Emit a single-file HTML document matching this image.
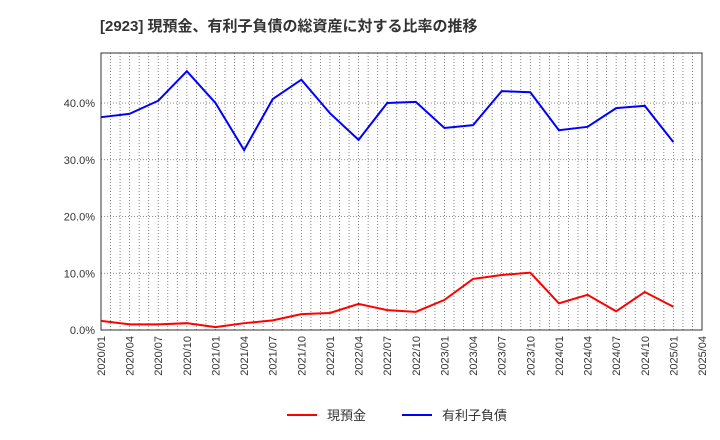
<!DOCTYPE html>
<html><head><meta charset="utf-8"><style>
body{margin:0;background:#fff;font-family:"Liberation Sans","Noto Sans CJK JP",sans-serif;}
</style></head><body>
<svg id="chart" width="720" height="440" style="display:block">
<text x="100" y="31" font-size="15" font-weight="bold" fill="#333">[2923]  現預金、有利子負債の総資産に対する比率の推移</text>
<g id="grid"></g><g id="axes"></g><g id="series"></g>
<g>
<line x1="287" y1="415" x2="317" y2="415" stroke="#f00" stroke-width="2"/>
<text x="327" y="420" font-size="13" fill="#333">現預金</text>
<line x1="402" y1="415" x2="432" y2="415" stroke="#00f" stroke-width="2"/>
<text x="442" y="420" font-size="13" fill="#333">有利子負債</text>
</g>
</svg>
<script>
const xLabels=["2020/01","2020/04","2020/07","2020/10","2021/01","2021/04","2021/07","2021/10","2022/01","2022/04","2022/07","2022/10","2023/01","2023/04","2023/07","2023/10","2024/01","2024/04","2024/07","2024/10","2025/01","2025/04"];
const yTicks=[0,10,20,30,40];
const cash=[1.6,1.0,1.0,1.2,0.5,1.2,1.7,2.8,3.0,4.6,3.5,3.2,5.3,9.0,9.7,10.1,4.7,6.2,3.3,6.7,4.1];
const debt=[37.5,38.1,40.4,45.6,40.0,31.7,40.7,44.1,38.2,33.5,40.0,40.2,35.6,36.1,42.1,41.9,35.2,35.8,39.1,39.5,33.1];
const L=101,R=702,T=53,B=330,NS="http://www.w3.org/2000/svg";
const xs=i=>L+i*(R-L)/(xLabels.length-1);
const ys=v=>B-v*(B-103)/40;
function mk(tag,a,p){const e=document.createElementNS(NS,tag);for(const k in a)e.setAttribute(k,a[k]);p.appendChild(e);return e;}
const grid=document.getElementById('grid'),axes=document.getElementById('axes'),ser=document.getElementById('series');
mk('rect',{x:L,y:T,width:R-L,height:B-T,fill:'none',stroke:'#333','stroke-width':1},axes);
const months=(xLabels.length-1)*3;
for(let m=1;m<months;m++){const x=xs(m/3);
 const g=mk('line',{x1:x,x2:x,y1:T,y2:B,stroke:'#666','stroke-dasharray':'1,2','stroke-width':0.8},grid);
 
 }
xLabels.forEach((l,i)=>{const x=xs(i);
 const t=mk('text',{x:0,y:0,'font-size':11,fill:'#333','text-anchor':'end',transform:`translate(${x+4},${B+6}) rotate(-90)`},axes);
 t.textContent=l;
 
 });
yTicks.forEach(v=>{const y=ys(v);
 if(v>0){const g=mk('line',{x1:L,x2:R,y1:y,y2:y,stroke:'#666','stroke-dasharray':'1,2','stroke-width':0.8},grid);
 }
 const t=mk('text',{x:L-6,y:y+4,'font-size':11,fill:'#333','text-anchor':'end'},axes);
 t.textContent=v.toFixed(1)+'%';
 
 });
function line(d,c,n){const p=mk('polyline',{points:d.map((v,i)=>xs(i)+','+ys(v)).join(' '),fill:'none',stroke:c,'stroke-width':2},ser);
 
 }
line(cash,'#f00','cash-line');
line(debt,'#00f','debt-line');
</script>
</body></html>
